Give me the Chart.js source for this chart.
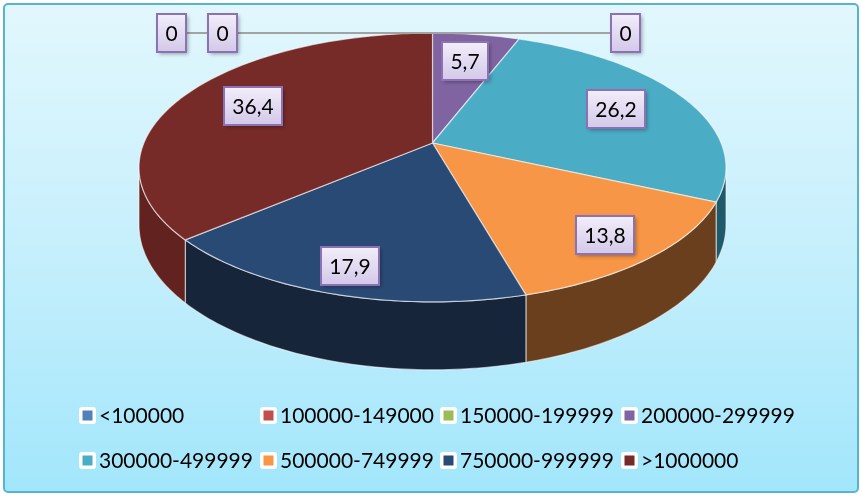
<!DOCTYPE html>
<html><head><meta charset="utf-8">
<script src="https://cdn.jsdelivr.net/npm/chart.js@4"></script>
<style>html,body{margin:0;padding:0;background:#fff}#wrap{width:862px;height:496px}</style>
</head><body><div id="wrap"><canvas id="c" width="862" height="496"></canvas></div>
<script>
// ---- data ----
const categories = ['<100000','100000-149000','150000-199999','200000-299999','300000-499999','500000-749999','750000-999999','>1000000'];
const values = [0, 0, 0, 5.7, 26.2, 13.8, 17.9, 36.4];

// ---- style ----
const topColors  = ['#4F81BD','#C0504D','#9BBB59','#8064A2','#4BACC6','#F79646','#2A4A76','#772B28'];
const sideColors = ['#2c4a6e','#6e2d2b','#56693a','#4a3a5e','#1e5a6a','#6a3f1d','#17253b','#62221f'];
const GEO = { ax: 2.17, ay: 0.977, k: 0.182, depth: 0.418 };   // projection relative to pie radius
const zeroCalloutX = [-0.903, -0.726, 0.667];                    // callout x for zero slices (fraction of half-width)
const FONT = '21px Lato, "Open Sans", sans-serif';

function fmt(v){ return String(v).replace('.', ','); }

function proj(c, th, f, dz) {
  const u = Math.sin(th) * f, v = -Math.cos(th) * f;
  const s = 1 / (1 - GEO.k * v);
  return { x: c.x + c.R * GEO.ax * u * s, y: c.y + c.R * GEO.ay * v * s + dz * c.R * GEO.depth * s };
}
function arcPts(c, t1, t2, dz) {
  const n = Math.max(2, Math.ceil((t2 - t1) / (Math.PI / 180)));
  const pts = [];
  for (let i = 0; i <= n; i++) pts.push(proj(c, t1 + (t2 - t1) * i / n, 1, dz));
  return pts;
}

const bgPlugin = {
  id: 'bg',
  beforeDraw(chart) {
    const ctx = chart.ctx;
    ctx.save();
    ctx.fillStyle = '#ffffff'; ctx.fillRect(0, 0, chart.width, chart.height);
    const g = ctx.createLinearGradient(0, 4, 0, 492);
    g.addColorStop(0, '#e2f7fd'); g.addColorStop(0.5, '#c6effc'); g.addColorStop(1, '#a2e6fb');
    ctx.beginPath();
    if (ctx.roundRect) ctx.roundRect(4, 4, 854, 488, 4); else ctx.rect(4, 4, 854, 488);
    ctx.fillStyle = g; ctx.fill();
    ctx.lineWidth = 2; ctx.strokeStyle = '#58b4cd'; ctx.stroke();
    ctx.restore();
  }
};

function geom(chart) {
  const meta = chart.getDatasetMeta(0);
  const a0 = meta.data[0];
  return { meta, c: { x: a0.x, y: a0.y, R: a0.outerRadius } };
}

const pie3dPlugin = {
  id: 'pie3d',
  beforeDatasetsDraw(chart) {
    const ctx = chart.ctx;
    const { meta, c } = geom(chart);
    const ta = Math.acos(-GEO.k), tb = 2 * Math.PI - ta;
    ctx.save();
    ctx.lineJoin = 'round';
    // walls
    meta.data.forEach((arc, i) => {
      let t1 = arc.startAngle + Math.PI / 2, t2 = arc.endAngle + Math.PI / 2;
      t1 = Math.max(t1, ta); t2 = Math.min(t2, tb);
      if (t2 - t1 <= 1e-6) return;
      const top = arcPts(c, t1, t2, 0), bot = arcPts(c, t1, t2, 1).reverse();
      ctx.beginPath();
      top.concat(bot).forEach((p, j) => j ? ctx.lineTo(p.x, p.y) : ctx.moveTo(p.x, p.y));
      ctx.closePath();
      ctx.fillStyle = sideColors[i]; ctx.fill();
      ctx.strokeStyle = 'rgba(255,255,255,0.55)'; ctx.lineWidth = 1.2; ctx.stroke();
    });
    // top faces
    meta.data.forEach((arc, i) => {
      const t1 = arc.startAngle + Math.PI / 2, t2 = arc.endAngle + Math.PI / 2;
      if (t2 - t1 <= 1e-6) return;
      const pts = arcPts(c, t1, t2, 0);
      const ctr = proj(c, 0, 0, 0);
      ctx.beginPath(); ctx.moveTo(ctr.x, ctr.y);
      pts.forEach(p => ctx.lineTo(p.x, p.y));
      ctx.closePath();
      ctx.fillStyle = topColors[i]; ctx.fill();
      ctx.strokeStyle = 'rgba(255,255,255,0.6)'; ctx.lineWidth = 1.2; ctx.stroke();
    });
    ctx.restore();
    return false;
  },
  afterDraw(chart) {
    const ctx = chart.ctx;
    const { meta, c } = geom(chart);
    const items = [];
    let zi = 0;
    const topPt = proj(c, 0, 1, 0);
    const callouts = [];
    meta.data.forEach((arc, i) => {
      const t1 = arc.startAngle + Math.PI / 2, t2 = arc.endAngle + Math.PI / 2;
      if (values[i] === 0) {
        const x = c.x + c.R * GEO.ax * zeroCalloutX[zi++];
        callouts.push({ x, y: topPt.y, text: fmt(values[i]) });
      } else {
        const tm = (t1 + t2) / 2;
        const vm = -Math.cos(tm);
        const f = 0.72 + 0.13 * Math.max(0, vm);
        const p = proj(c, tm, f, 0);
        items.push({ x: p.x, y: p.y, text: fmt(values[i]) });
      }
    });
    ctx.save();
    if (callouts.length) {
      const xs = callouts.map(o => o.x);
      ctx.strokeStyle = '#a3a3a3'; ctx.lineWidth = 2;
      ctx.beginPath();
      ctx.moveTo(Math.min(...xs), topPt.y); ctx.lineTo(topPt.x, topPt.y);
      ctx.moveTo(topPt.x, topPt.y); ctx.lineTo(Math.max(...xs), topPt.y);
      ctx.stroke();
    }
    callouts.concat(items).forEach(o => labelBox(ctx, o.text, o.x, o.y));
    ctx.restore();
  }
};

function labelBox(ctx, text, x, y) {
  ctx.font = FONT;
  const tw = ctx.measureText(text).width;
  const w = Math.round(tw + 17), h = 38;
  const l = Math.round(x - w / 2), t = Math.round(y - h / 2);
  ctx.save();
  ctx.shadowColor = 'rgba(0,0,0,0.35)'; ctx.shadowBlur = 4; ctx.shadowOffsetX = 2; ctx.shadowOffsetY = 2;
  const g = ctx.createLinearGradient(0, t, 0, t + h);
  g.addColorStop(0, '#f2eefa'); g.addColorStop(1, '#d3c8e9');
  ctx.fillStyle = g; ctx.fillRect(l, t, w, h);
  ctx.restore();
  ctx.strokeStyle = '#8c72b4'; ctx.lineWidth = 2; ctx.strokeRect(l, t, w, h);
  ctx.fillStyle = '#000'; ctx.textAlign = 'center'; ctx.textBaseline = 'middle';
  ctx.fillText(text, l + w / 2, t + h / 2 + 1);
}

const LEG = { left: 79, colW: 180.5, row0: 415.5, rowH: 45, cols: 4, box: 17, sw: 10 };
const legendPlugin = {
  id: 'legend4',
  afterDraw(chart) {
    const ctx = chart.ctx;
    ctx.save();
    ctx.font = FONT; ctx.textBaseline = 'middle'; ctx.textAlign = 'left';
    categories.forEach((name, i) => {
      const col = i % LEG.cols, row = Math.floor(i / LEG.cols);
      const bx = Math.round(LEG.left + col * LEG.colW), cy = LEG.row0 + row * LEG.rowH;
      const by = Math.round(cy - LEG.box / 2);
      ctx.fillStyle = '#ffffff';
      ctx.beginPath();
      if (ctx.roundRect) ctx.roundRect(bx, by, LEG.box, LEG.box, 3); else ctx.rect(bx, by, LEG.box, LEG.box);
      ctx.fill();
      const o = (LEG.box - LEG.sw) / 2;
      ctx.fillStyle = topColors[i]; ctx.fillRect(bx + o, by + o, LEG.sw, LEG.sw);
      ctx.fillStyle = '#000';
      ctx.fillText(name, bx + LEG.box + 3, cy + 1);
    });
    ctx.restore();
  }
};

new Chart(document.getElementById('c'), {
  type: 'pie',
  data: { labels: categories, datasets: [{ data: values, backgroundColor: topColors, borderWidth: 0, hoverOffset: 0 }] },
  options: {
    responsive: false, animation: false, events: [],
    layout: { padding: { left: 3, right: 0, top: 10, bottom: 220 } },
    plugins: { legend: { display: false }, tooltip: { enabled: false } }
  },
  plugins: [bgPlugin, pie3dPlugin, legendPlugin]
});
</script></body></html>
